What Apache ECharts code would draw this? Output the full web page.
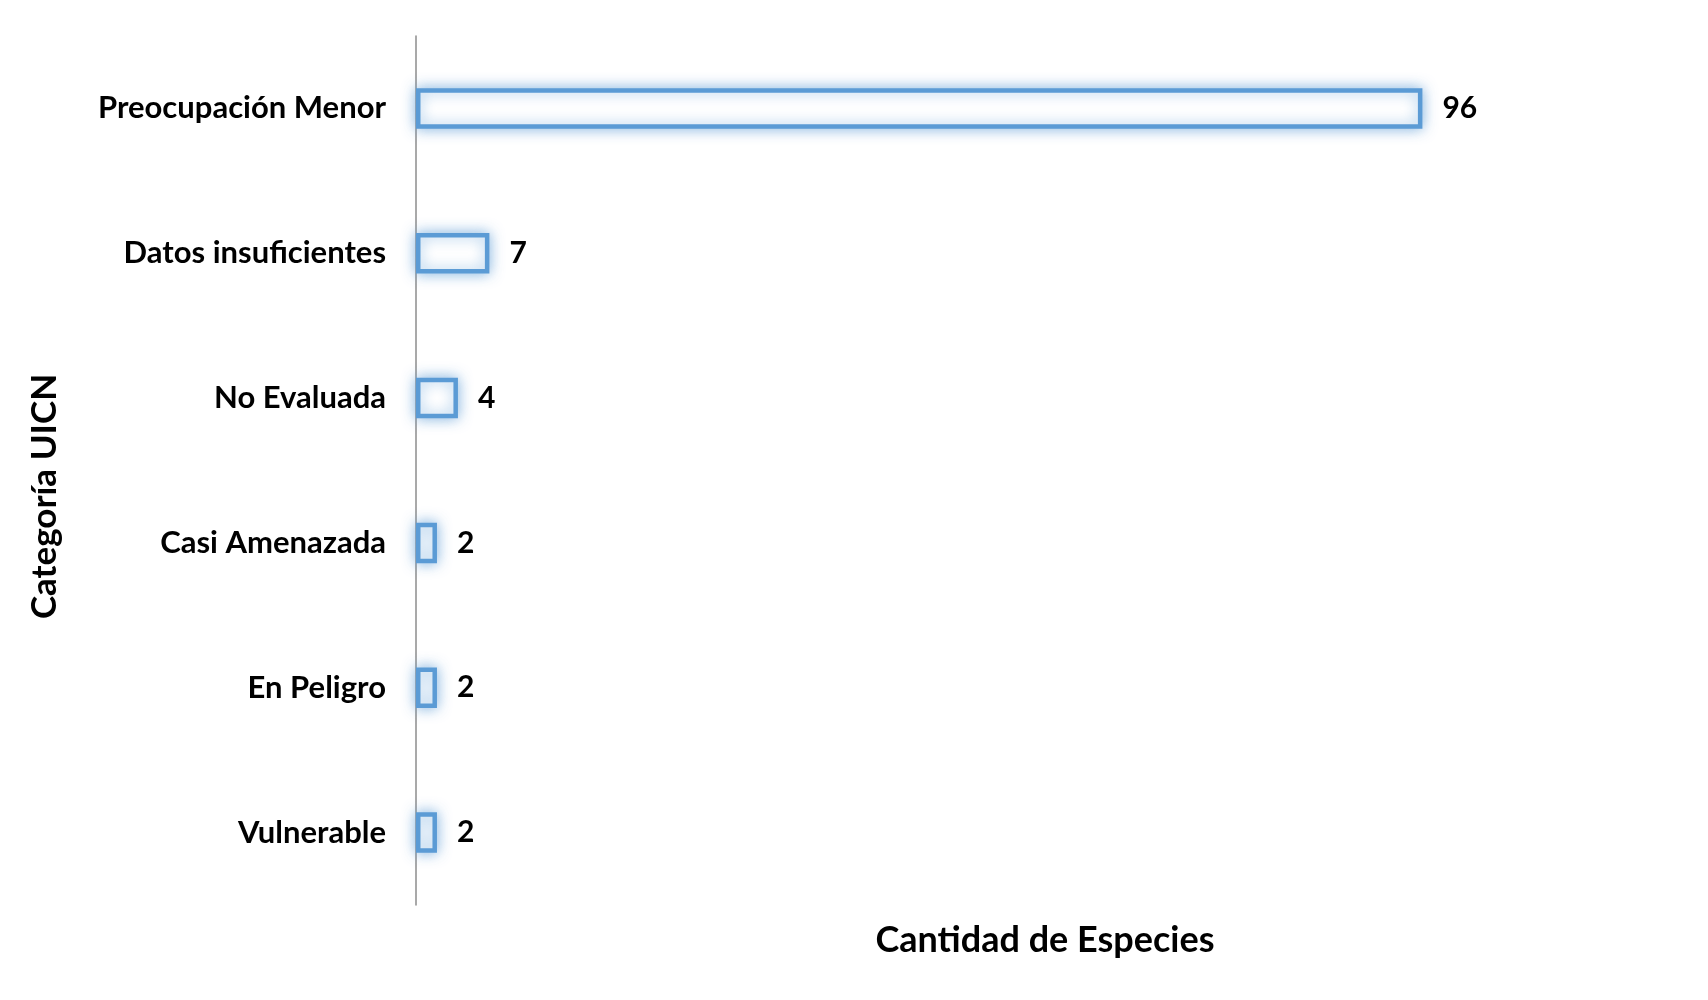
<!DOCTYPE html>
<html><head><meta charset="utf-8">
<script src="https://cdn.jsdelivr.net/npm/echarts@6/dist/echarts.min.js"></script>
<style>html,body{margin:0;padding:0;background:#fff}#c{width:1708px;height:1000px}</style>
</head><body><div id="c"></div>
<script>
const categories = ["Preocupación Menor","Datos insuficientes","No Evaluada","Casi Amenazada","En Peligro","Vulnerable"];
const values = [96,7,4,2,2,2];
const xAxisName = "Cantidad de Especies";
const yAxisName = "Categoría UICN";

const chart = echarts.init(document.getElementById('c'));
const font = 'Lato, "Open Sans", sans-serif';
chart.setOption({
  animation:false,
  backgroundColor:'#fff',
  grid:{left:416,right:34,top:36,bottom:95,containLabel:false},
  xAxis:{type:'value',min:0,max:120,
    name:xAxisName,nameLocation:'middle',nameGap:17,
    nameTextStyle:{fontFamily:font,fontWeight:'bold',fontSize:36,color:'#000'},
    axisLine:{show:false},axisTick:{show:false},axisLabel:{show:false},splitLine:{show:false}},
  yAxis:{type:'category',inverse:true,data:categories,
    name:yAxisName,nameLocation:'middle',nameGap:354,nameRotate:90,
    nameTextStyle:{fontFamily:font,fontWeight:'bold',fontSize:35,color:'#000',padding:[0,52,0,0]},
    axisLine:{show:true,lineStyle:{color:'#8c8c8c',width:1.5}},
    axisTick:{show:false},
    axisLabel:{margin:30,fontFamily:font,fontWeight:'bold',fontSize:31,color:'#000'}},
  series:[{type:'bar',data:values,barWidth:'28%',
    itemStyle:{color:'#ffffff',borderColor:'#5b9bd5',borderWidth:4.5,
      shadowColor:'rgba(91,155,213,0.7)',shadowBlur:14},
    label:{show:true,position:'right',distance:20,fontFamily:font,fontWeight:'bold',fontSize:30,color:'#000'}
  }]
});
</script></body></html>
